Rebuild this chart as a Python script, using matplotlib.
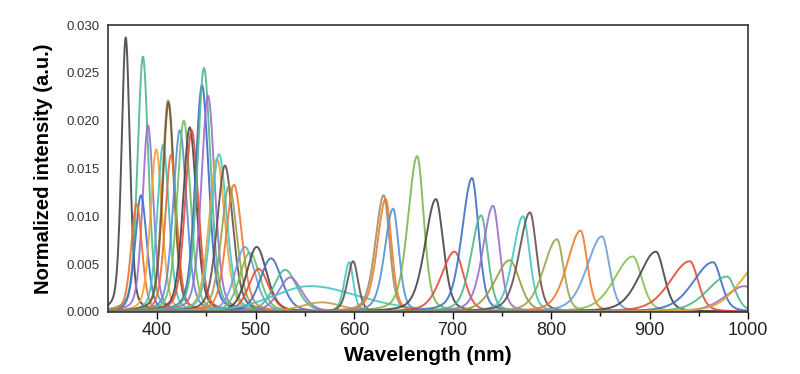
import numpy as np
import matplotlib
matplotlib.use("Agg")
import matplotlib.pyplot as plt

plt.rcParams['font.family'] = ['Liberation Sans', 'DejaVu Sans']

# Peak data: centre (nm), height (a.u.),
# left and right half-widths at half maximum (nm), colour
peak_nm = [368, 385.5, 390.6, 383.5, 379, 399, 406, 411, 411.5, 414, 423, 427, 433, 435,
           445.5, 447.5, 451.6, 460.7, 462.7, 468.8, 473, 478,
           489, 494, 501, 503, 515.5, 530, 535, 555, 567, 595, 599,
           630, 632, 639.5, 664, 683, 702, 719.7, 729, 741, 758, 771.5, 778.6,
           806, 830, 851.7, 883, 906.5, 941, 964.5, 978.7, 997, 1012]
peak_height = [0.0287, 0.0267, 0.0195, 0.0122, 0.0113, 0.0170, 0.0175, 0.0221, 0.0219, 0.0164,
               0.0190, 0.0200, 0.0193, 0.0190, 0.0237, 0.0255, 0.0226, 0.0160, 0.0165,
               0.0153, 0.0132, 0.0133,
               0.0068, 0.0062, 0.0068, 0.0045, 0.0056, 0.0044, 0.0036, 0.0027, 0.0010,
               0.0052, 0.0053,
               0.0122, 0.0118, 0.0108, 0.0163, 0.0118, 0.0063, 0.0140, 0.0101, 0.0111,
               0.0054, 0.0100, 0.0104,
               0.0076, 0.0085, 0.0079, 0.0058, 0.0063, 0.0053, 0.0052, 0.0037, 0.0027, 0.0050]
left_hw = [5, 6.5, 6.5, 7, 6.5, 7, 7, 7, 7, 7, 8, 8, 8, 8, 8, 8, 8, 9.5, 9.5, 9.5, 9.5, 9.5,
           12, 12, 12, 12, 13, 14, 14, 45, 25, 6, 7,
           10, 10, 10, 11, 13, 16, 12, 12, 12, 18, 12, 13,
           16, 16, 18, 22, 20, 24, 24, 24, 24, 25]
right_hw = [5, 6.5, 6.5, 7, 6.5, 7, 7, 7, 7, 7, 8, 8, 8, 8, 8, 8, 8, 9.5, 9.5, 9.5, 9.5, 9.5,
            12, 12, 12, 12, 13, 14, 14, 60, 25, 5, 6,
            7, 7, 7, 8, 9, 11, 8, 8, 8, 12, 8, 8,
            8, 8, 9, 11, 10, 10, 10, 10, 10, 10]
peak_color = ['#454545', '#4fb789', '#9a6fcc', '#3f6fc6', '#f0702e', '#f0a43a', '#40c4c0',
              '#a08a4a', '#7a5a3a', '#ee6a32', '#5b8fd6', '#6cc060', '#474747', '#e84a3c',
              '#3a66c8', '#4fb789', '#9a6fcc', '#e8a040', '#45c8c4', '#6a4e4e', '#98a050',
              '#f07a30',
              '#6f9fd8', '#6cc060', '#454545', '#e84a3c', '#3f6fc6', '#4fb789', '#9a6fcc',
              '#45c8c4', '#c8a040', '#45c8c4', '#6a4e4e',
              '#a09060', '#f07a30', '#5b8fd6', '#7ab850', '#454545', '#e84a3c', '#3f6fc6',
              '#4fb789', '#9a6fcc', '#a09a40', '#45c8c4', '#6a4e4e',
              '#98a850', '#f07a30', '#6f9fd8', '#88c050', '#454545', '#e84a3c', '#3f6fc6',
              '#4fb789', '#9a6fcc', '#e0a830']

x_ticks = [400, 500, 600, 700, 800, 900, 1000]
y_ticks = [0.000, 0.005, 0.010, 0.015, 0.020, 0.025, 0.030]

fig = plt.figure(figsize=(8.0, 3.74), dpi=100)
ax = fig.add_axes([0.135, 0.166, 0.800, 0.767])

wl = np.linspace(350, 1000, 2600)
for c, h, lw_, rw_, col in zip(peak_nm, peak_height, left_hw, right_hw, peak_color):
    w = np.where(wl < c, lw_, rw_)
    d = (wl - c) / w
    gauss = np.exp(-np.log(2) * d ** 2)
    lor = 1.0 / (1.0 + d ** 2)
    y = h * (0.65 * gauss + 0.35 * lor)
    ax.plot(wl, y, color=col, lw=1.4, alpha=0.9)

ax.set_xlim(350, 1000)
ax.set_ylim(0, 0.030)
ax.set_xticks(x_ticks)
ax.set_xticks(np.arange(450, 1000, 100), minor=True)
ax.set_yticks(y_ticks)
ax.set_yticklabels([f"{v:.3f}" for v in y_ticks], fontsize=9.5, color='#333333')
ax.set_xticklabels([str(v) for v in x_ticks], fontsize=13, color='#222222')
ax.tick_params(axis='x', which='major', direction='out', length=5, width=1, pad=2)
ax.tick_params(axis='x', which='minor', direction='out', length=3, width=1)
ax.tick_params(axis='y', which='major', direction='out', length=0, pad=6)
for s in ax.spines.values():
    s.set_linewidth(1.2)
    s.set_color('#333333')

ax.set_xlabel('Wavelength (nm)', fontsize=15, fontweight='bold', labelpad=5)
ax.set_ylabel('Normalized intensity (a.u.)', fontsize=14.5, fontweight='bold', labelpad=10)

fig.savefig('out.png', dpi=100)
